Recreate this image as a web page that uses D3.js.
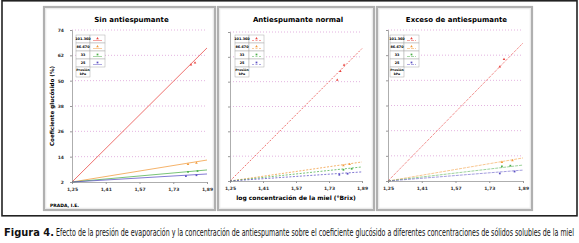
<!DOCTYPE html>
<html>
<head>
<meta charset="utf-8">
<script src="https://cdn.jsdelivr.net/npm/d3@7"></script>
<style>
  body { margin: 0; background: #fff; }
  svg text { font-family: "DejaVu Sans", "Liberation Sans", sans-serif; }
</style>
</head>
<body>
<div id="chart"></div>
<script>
// pressure series (kPa)
const pressures = ["101.360", "86.670", "33", "25"];
const seriesColors = ["#e8433f", "#f29a3a", "#4daf4a", "#5a4fc4"];
const panelTitles = ["Sin antiespumante", "Antiespumante normal", "Exceso de antiespumante"];
const xTicks = [1.25, 1.41, 1.57, 1.73, 1.89];
const yTicks = [2, 14, 26, 38, 50, 62, 74];
const xTickLabels = ["1,25", "1,41", "1,57", "1,73", "1,89"];

// fitted lines: [start, end] coefficient at log conc 1.25 and 1.89
const lineSin = [[2, 65.5], [2, 12.4], [2, 7.7], [2, 5.8]];
const lineNormal = [[2, 66], [2, 11.2], [2, 8.8], [2, 6.4]];
const lineExceso = [[2, 67.8], [2, 13], [2, 9.6], [2, 7.2]];

// measured points [log conc, coef]
const ptsSin = [
  [[1.814, 57.5], [1.833, 58.5]],
  [[1.80, 10.4], [1.84, 11]],
  [[1.80, 6.8], [1.845, 7.2]],
  [[1.79, 4.8], [1.84, 5.2]]
];
const ptsNormal = [
  [[1.803, 58], [1.785, 55], [1.77, 50.8]],
  [[1.80, 9.5], [1.83, 10.1]],
  [[1.80, 7.4], [1.84, 7.9]],
  [[1.78, 5], [1.82, 5.5]]
];
const ptsExceso = [
  [[1.80, 60], [1.78, 56.5]],
  [[1.79, 11], [1.84, 11.8]],
  [[1.79, 9], [1.83, 9.3]],
  [[1.78, 5.6], [1.85, 6.5]]
];

const lineData = [lineSin, lineNormal, lineExceso];
const pointData = [ptsSin, ptsNormal, ptsExceso];

const W = 579, H = 243;
const svg = d3.select("#chart").append("svg")
  .attr("width", W).attr("height", H);

// outer frame
svg.append("rect")
  .attr("x", 2).attr("y", 0.8).attr("width", 575).attr("height", 215)
  .attr("fill", "none").attr("stroke", "#222").attr("stroke-width", 1.6);

const layout = [
  {box: [44, 7, 215, 210], xr: [72, 207], yr: [182, 30], leg: [76, 35], dash: null, ylab: true},
  {box: [218, 7, 374, 210], xr: [230, 362], yr: [181, 32], leg: [235, 35], dash: "2,1.5", ylab: false},
  {box: [377, 7, 532, 210], xr: [388, 523], yr: [181, 30], leg: [390, 35], dash: "3,1", ylab: false}
];

layout.forEach(function (L, p) {
  const g = svg.append("g");
  // panel border (grey, doubled)
  g.append("rect")
    .attr("x", L.box[0]).attr("y", L.box[1])
    .attr("width", L.box[2] - L.box[0]).attr("height", L.box[3] - L.box[1])
    .attr("fill", "none").attr("stroke", "#b0b0b0").attr("stroke-width", 2.2);
  g.append("rect")
    .attr("x", L.box[0] + 1.8).attr("y", L.box[1] + 1.8)
    .attr("width", L.box[2] - L.box[0] - 3.6).attr("height", L.box[3] - L.box[1] - 3.6)
    .attr("fill", "none").attr("stroke", "#e2e2e2").attr("stroke-width", 0.8);

  const x = d3.scaleLinear().domain([1.25, 1.89]).range(L.xr);
  const y = d3.scaleLinear().domain([2, 74]).range(L.yr);

  // title
  g.append("text")
    .attr("x", (L.box[0] + L.box[2]) / 2 + 2).attr("y", 22)
    .attr("text-anchor", "middle")
    .style("font-size", "7px").style("font-weight", "bold")
    .text(panelTitles[p]);

  // gridlines
  g.selectAll(".grid").data(yTicks.slice(1)).enter().append("line")
    .attr("x1", L.xr[0]).attr("x2", L.xr[1])
    .attr("y1", d => y(d)).attr("y2", d => y(d))
    .attr("stroke", "#dc9fd8").attr("stroke-width", 0.8)
    .attr("stroke-dasharray", "1,2");

  // y axis
  const yAxis = d3.axisLeft(y).tickValues(yTicks).tickSize(2)
    .tickFormat(d => L.ylab ? d : "");
  const ya = g.append("g").attr("transform", `translate(${L.xr[0]},0)`).call(yAxis);
  ya.select(".domain").attr("stroke", "#999").attr("stroke-width", 0.8);
  ya.selectAll(".tick line").attr("stroke", "#999");
  ya.selectAll("text").style("font-size", "4.5px").style("font-weight", "bold")
    .attr("x", -8).attr("fill", "#333");

  // x axis
  const xAxis = d3.axisBottom(x).tickValues(xTicks).tickSize(2)
    .tickFormat((d, i) => xTickLabels[i]);
  const xa = g.append("g").attr("transform", `translate(0,${L.yr[0]})`).call(xAxis);
  xa.select(".domain").attr("stroke", "#999").attr("stroke-width", 0.8);
  xa.selectAll(".tick line").attr("stroke", "#999");
  xa.selectAll("text").style("font-size", "4.5px").style("font-weight", "bold")
    .attr("y", 6).attr("fill", "#333");

  // series lines
  lineData[p].forEach(function (ends, s) {
    g.append("line")
      .attr("x1", x(1.25)).attr("y1", y(ends[0]))
      .attr("x2", x(1.89)).attr("y2", y(ends[1]))
      .attr("stroke", seriesColors[s])
      .attr("stroke-width", 0.8)
      .attr("stroke-opacity", p === 2 ? 0.7 : 0.95)
      .attr("stroke-dasharray", L.dash);
  });

  // points
  pointData[p].forEach(function (pts, s) {
    g.selectAll(null).data(pts).enter().append("path")
      .attr("transform", d => `translate(${x(d[0])},${y(d[1])})`)
      .attr("d", d3.symbol().type(s < 2 ? d3.symbolTriangle : d3.symbolSquare).size(3))
      .attr("fill", seriesColors[s]);
  });

  // legend table
  const lx = L.leg[0], ly = L.leg[1], cw = 14, rh = 8;
  const leg = g.append("g");
  pressures.forEach(function (pr, i) {
    leg.append("rect").attr("x", lx).attr("y", ly + i * rh)
      .attr("width", cw).attr("height", rh)
      .attr("fill", "#fff").attr("stroke", "#aaa").attr("stroke-width", 0.5);
    leg.append("rect").attr("x", lx + cw).attr("y", ly + i * rh)
      .attr("width", cw + 1).attr("height", rh)
      .attr("fill", "#fff").attr("stroke", "#aaa").attr("stroke-width", 0.5);
    leg.append("text").attr("x", lx + cw / 2).attr("y", ly + i * rh + 5.3)
      .attr("text-anchor", "middle")
      .style("font-size", "3.4px").style("font-weight", "bold").text(pr);
    leg.append("line")
      .attr("x1", lx + cw + 3).attr("x2", lx + 2 * cw - 2)
      .attr("y1", ly + i * rh + 5.5).attr("y2", ly + i * rh + 5.5)
      .attr("stroke", seriesColors[i]).attr("stroke-width", 0.5)
      .attr("stroke-dasharray", L.dash);
    leg.append("path")
      .attr("transform", `translate(${lx + cw * 1.5 + 0.5},${ly + i * rh + 3.5})`)
      .attr("d", d3.symbol().type(i < 2 ? d3.symbolTriangle : d3.symbolSquare).size(3))
      .attr("fill", seriesColors[i]);
  });
  leg.append("rect").attr("x", lx).attr("y", ly + 4 * rh)
    .attr("width", cw).attr("height", rh + 2)
    .attr("fill", "#fff").attr("stroke", "#aaa").attr("stroke-width", 0.5);
  leg.append("text").attr("x", lx + cw / 2).attr("y", ly + 4 * rh + 4)
    .attr("text-anchor", "middle")
    .style("font-size", "3.2px").style("font-weight", "bold").text("Presión");
  leg.append("text").attr("x", lx + cw / 2).attr("y", ly + 4 * rh + 8)
    .attr("text-anchor", "middle")
    .style("font-size", "3.2px").style("font-weight", "bold").text("kPa");
});

// y axis title
svg.append("text")
  .attr("transform", "translate(54,106) rotate(-90)")
  .attr("text-anchor", "middle")
  .style("font-size", "5.6px").style("font-weight", "bold")
  .text("Coeficiente glucósido (%)");

// x axis title
svg.append("text")
  .attr("x", 296).attr("y", 200)
  .attr("text-anchor", "middle")
  .style("font-size", "6px").style("font-weight", "bold")
  .text("log concentración de la miel (°Brix)");

// credit
svg.append("text")
  .attr("x", 50).attr("y", 207)
  .style("font-size", "4.5px").style("font-weight", "bold")
  .text("PRADA, I.E.");

// caption: measured, then squeezed horizontally to the reference widths
const capFont = "'Liberation Sans Narrow', 'DejaVu Sans Condensed', 'Liberation Sans', sans-serif";
function squeezedText(x0, y0, width, bold, str) {
  const t = svg.append("text").attr("x", 0).attr("y", 0)
    .style("font-family", capFont).style("font-size", "10.5px")
    .style("font-weight", bold ? "bold" : "normal").attr("fill", "#111")
    .text(str);
  const natural = t.node().getComputedTextLength();
  t.attr("transform", `translate(${x0},${y0}) scale(${width / natural},1)`);
  return t;
}
squeezedText(4, 236, 50, true, "Figura 4.");
squeezedText(56, 236, 519, false,
  "Efecto de la presión de evaporación y la concentración de antiespumante sobre el coeficiente glucósido a diferentes concentraciones de sólidos solubles de la miel");
</script>
</body>
</html>
